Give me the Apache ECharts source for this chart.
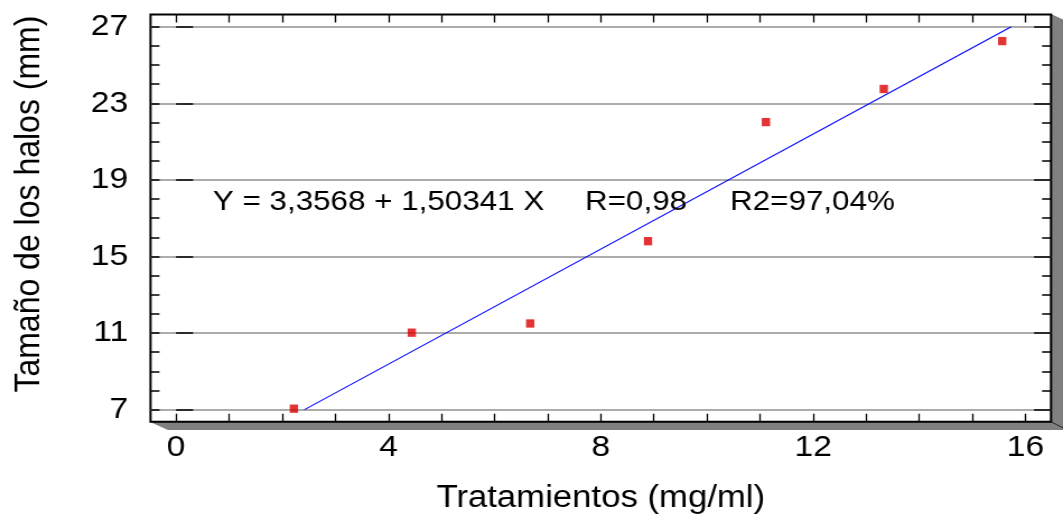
<!DOCTYPE html>
<html>
<head>
<meta charset="utf-8">
<script src="https://cdn.jsdelivr.net/npm/echarts@6/dist/echarts.min.js"></script>
<style>
html,body{margin:0;padding:0;background:#fff;overflow:hidden;}
#c{width:949px;height:519px;transform:scaleX(1.12013);transform-origin:0 0;}
</style>
</head>
<body>
<div id="c"></div>
<script>
// ---- data ----
const xValues = [2.22, 4.44, 6.67, 8.89, 11.11, 13.33, 15.56];
const yValues = [7.05, 11.02, 11.5, 15.8, 22.02, 23.75, 26.25];
const fitX = [2.42, 15.73];
const fitY = [7, 27];
const xTickLabels = [0, 4, 8, 12, 16];
const xTicks = [0,1,2,3,4,5,6,7,8,9,10,11,12,13,14,15,16];
const yTickLabels = [7, 11, 15, 19, 23, 27];
const yTicks = [7,8,9,10,11,12,13,14,15,16,17,18,19,20,21,22,23,24,25,26,27];
const eqText = 'Y = 3,3568 + 1,50341 X';
const rText = 'R=0,98';
const r2Text = 'R2=97,04%';
const xTitle = 'Tratamientos (mg/ml)';
const yTitle = 'Tamaño de los halos (mm)';

// ---- layout (pre-transform px) ----
const FONT = '"Liberation Sans", Arial, sans-serif';
const GL = 134.4, GT = 14.5, GW = 803.9, GH = 407.2, W = 949;
const GR = GL + GW, GB = GT + GH;
const XMIN = -0.48, XMAX = 16.48, YMIN = 6.37, YMAX = 27.64;

const scatterData = xValues.map((x, i) => [x, yValues[i]]);
const fitData = fitX.map((x, i) => [x, fitY[i]]);

function yTickAxis(pos, vals, len) {
  return {
    type: 'value', position: pos, min: YMIN, max: YMAX, z: 3,
    axisLine: {show: false},
    axisLabel: {show: false},
    splitLine: {show: false},
    axisTick: {show: true, inside: true, length: len, customValues: vals,
      lineStyle: {color: '#000', width: 1.5}}
  };
}
function xTickAxis(pos, showLabel) {
  return {
    type: 'value', position: pos, min: XMIN, max: XMAX, z: 3,
    axisLine: {show: false},
    splitLine: {show: false},
    axisTick: {show: true, inside: true, length: 8, customValues: xTicks,
      lineStyle: {color: '#000', width: 1.3}},
    axisLabel: showLabel ? {show: true, customValues: xTickLabels, fontSize: 30,
      fontFamily: FONT, color: '#000', margin: 11} : {show: false},
    name: showLabel ? xTitle : '',
    nameLocation: 'middle', nameGap: 61,
    nameTextStyle: {fontSize: 31, fontFamily: FONT, color: '#000'}
  };
}

const chart = echarts.init(document.getElementById('c'));
chart.setOption({
  animation: false,
  backgroundColor: '#fff',
  grid: {left: GL, top: GT, width: GW, height: GH, show: true,
    borderColor: '#000', borderWidth: 2, backgroundColor: '#fff'},
  xAxis: [xTickAxis('bottom', true), xTickAxis('top', false)],
  yAxis: [
    {
      type: 'value', position: 'left', min: YMIN, max: YMAX, z: 0,
      axisLine: {show: false},
      axisTick: {show: false, customValues: yTickLabels},
      axisLabel: {show: true, customValues: yTickLabels, fontSize: 30,
        fontFamily: FONT, color: '#000', margin: 20},
      splitLine: {show: true, lineStyle: {color: '#909090', width: 1.5}},
      name: yTitle, nameLocation: 'middle', nameGap: 92, nameRotate: 90,
      nameTextStyle: {fontSize: 32, fontFamily: FONT, color: '#000', padding: [0, 0, 0, 28]}
    },
    yTickAxis('left', yTickLabels, 15.2),
    yTickAxis('left', yTicks, 8),
    yTickAxis('right', yTickLabels, 15.2),
    yTickAxis('right', yTicks, 8)
  ],
  graphic: [
    {type: 'polygon', z: -1, silent: true,
      shape: {points: [[GL, GB], [GL + 15.6, GB + 7.8], [W, GB + 7.8], [W, GT + 5.5], [GR, GT], [GR, GB]]},
      style: {fill: '#808080', stroke: '#6e6e6e', lineWidth: 0.8}},
    {type: 'line', z: 5, silent: true,
      shape: {x1: GR, y1: GB, x2: W, y2: GB + 6.3},
      style: {stroke: '#222', lineWidth: 1}},
    {type: 'text', z: 10, x: 190, y: 202, silent: true,
      style: {text: eqText, fontSize: 28, fontFamily: FONT, fill: '#000', verticalAlign: 'middle'}},
    {type: 'text', z: 10, x: 522.3, y: 202, silent: true,
      style: {text: rText, fontSize: 28, fontFamily: FONT, fill: '#000', verticalAlign: 'middle'}},
    {type: 'text', z: 10, x: 651.8, y: 202, silent: true,
      style: {text: r2Text, fontSize: 28, fontFamily: FONT, fill: '#000', verticalAlign: 'middle'}}
  ],
  series: [
    {type: 'line', data: fitData, xAxisIndex: 0, yAxisIndex: 0, symbol: 'none',
      lineStyle: {color: '#0000ff', width: 1.1}, z: 2},
    {type: 'scatter', data: scatterData, xAxisIndex: 0, yAxisIndex: 0,
      symbol: 'rect', symbolSize: [7.4, 8.3],
      itemStyle: {color: '#dd0000'}, z: 3}
  ]
});
</script>
</body>
</html>
